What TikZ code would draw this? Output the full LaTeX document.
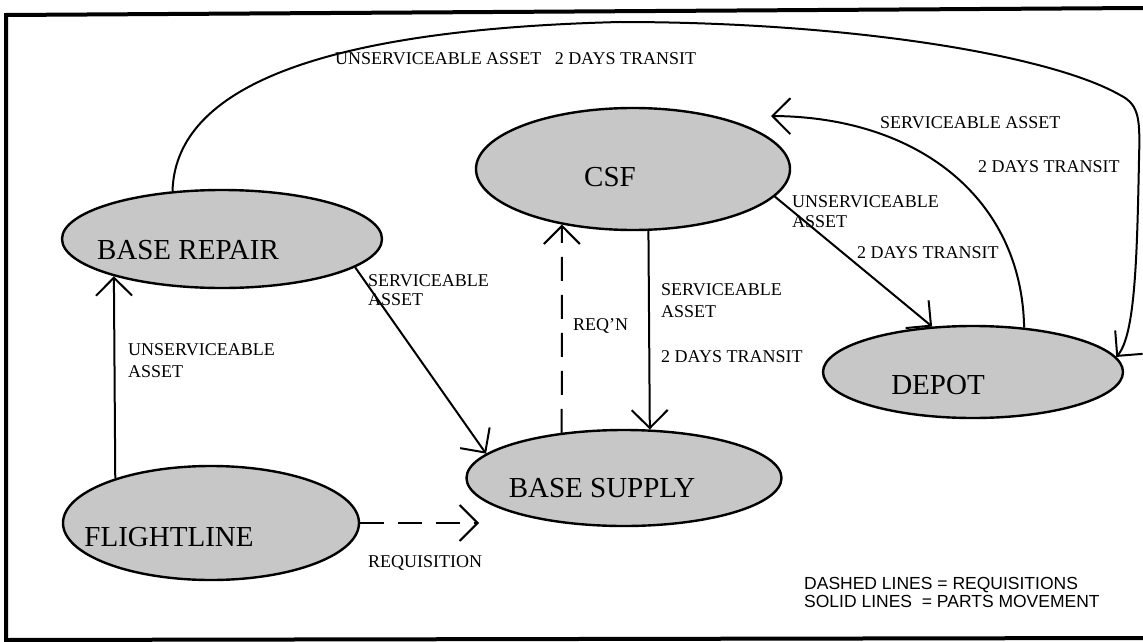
\documentclass[tikz,border=0pt]{standalone}
\usepackage{fontspec}
\setmainfont{Liberation Serif}
\newfontfamily\legendfont{Liberation Sans}
\usetikzlibrary{arrows.meta,shapes.geometric}
\begin{document}
\begin{tikzpicture}[x=1pt,y=-1pt,
  place/.style={ellipse,draw,line width=2.4pt,fill=black!22,inner sep=0pt},
  nodetext/.style={font=\fontsize{29}{31}\selectfont,inner sep=0pt},
  lbl/.style={font=\fontsize{18}{20}\selectfont,inner sep=0pt,anchor=base west},
  legendtext/.style={font=\legendfont\fontsize{17.5}{19}\selectfont,inner sep=0pt,anchor=base west},
  flow/.style={line width=2pt,-{Straight Barb[length=18pt,width=36pt,line width=2pt]}},
  req/.style={flow,dash pattern=on 24pt off 14pt}]
\useasboundingbox (0,0) rectangle (1143,642);
\fill[white] (0,0) rectangle (1143,642);
% frame
\draw[line width=4pt] (1143,8) -- (6,15) -- (6,640) -- (1143,638);
% places
\node[place,minimum width=320pt,minimum height=98pt] (br) at (222,239) {};
\node[place,minimum width=314pt,minimum height=122pt] (csf) at (633,169) {};
\node[place,minimum width=300pt,minimum height=92pt] (depot) at (973,372) {};
\node[place,minimum width=315pt,minimum height=96pt] (bs) at (624,478) {};
\node[place,minimum width=296pt,minimum height=114pt] (fl) at (211,523) {};
\node[nodetext] (brt) at (188,250) {BASE REPAIR};
\node[nodetext] (csft) at (610,177) {CSF};
\node[nodetext] (depott) at (938,385) {DEPOT};
\node[nodetext] (bst) at (602,488) {BASE SUPPLY};
\node[nodetext] (flt) at (169,537) {FLIGHTLINE};
% connectors
\coordinate (reqtip) at (479,523);
\coordinate (csftip) at (771,116);
\draw[flow] (fl.155) -- (br.199.4);
\draw[flow] (br.348) -- (bs.170);
\draw[req] (fl.east) -- (reqtip);
\draw[req] (bs.144) -- (csf.218);
\draw[flow] (csf.284.8) -- (bs.62.2);
\draw[flow] (csf.349) -- (depot.132);
\draw[flow] (depot.41.6) .. controls (1022,200) and (920,117) .. (csftip);
\draw[flow] (br.136.4) .. controls (175,95) and (300,30) .. (620,22)
  .. controls (850,22) and (1050,55) .. (1120,95)
  .. controls (1140,105) and (1140,120) .. (1139,160)
  .. controls (1137,260) and (1135,335) .. (depot.6.7);
% labels
\node[lbl] (l1) at (128,355) {UNSERVICEABLE};
\node[lbl] (l2) at (128,377) {ASSET};
\node[lbl] (l3) at (368,286) {SERVICEABLE};
\node[lbl] (l4) at (368,305) {ASSET};
\node[lbl] (l5) at (368,567) {REQUISITION};
\node[lbl] (l6) at (573,330) {REQ'N};
\node[lbl] (l7) at (661,295) {SERVICEABLE};
\node[lbl] (l8) at (661,317) {ASSET};
\node[lbl] (l9) at (661,362) {2 DAYS TRANSIT};
\node[lbl] (l10) at (792,207) {UNSERVICEABLE};
\node[lbl] (l11) at (792,227) {ASSET};
\node[lbl] (l12) at (857,258) {2 DAYS TRANSIT};
\node[lbl] (l13) at (880,128) {SERVICEABLE ASSET};
\node[lbl] (l14) at (978,172) {2 DAYS TRANSIT};
\node[lbl] (l15) at (335,65) {UNSERVICEABLE ASSET\hspace{0.75em}2 DAYS TRANSIT};
% legend
\node[legendtext] (lg1) at (804,589) {DASHED LINES = REQUISITIONS};
\node[legendtext] (lg2) at (804,607) {SOLID LINES\ \ = PARTS MOVEMENT};
\end{tikzpicture}
\end{document}
